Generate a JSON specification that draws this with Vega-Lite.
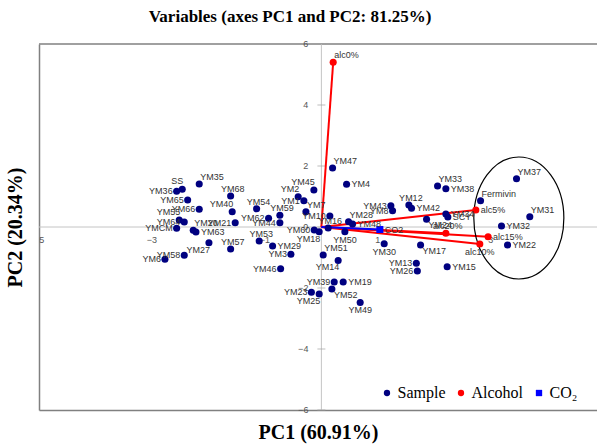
{
  "$schema": "https://vega.github.io/schema/vega-lite/v6.json",
  "width": 558,
  "height": 366,
  "autosize": "none",
  "padding": {"left": 39, "top": 44, "right": 0, "bottom": 34},
  "background": "white",
  "title": {"text": "Variables (axes PC1 and PC2: 81.25%)", "font": "Liberation Serif", "fontSize": 17, "fontWeight": "bold", "color": "#000000", "anchor": "middle", "dx": -28, "offset": 14},
  "datasets": {
    "pts": [
      {"name": "YM35", "type": "Sample", "x": -2.163, "y": 1.410},
      {"name": "SS", "type": "Sample", "x": -2.464, "y": 1.236},
      {"name": "YM36", "type": "Sample", "x": -2.563, "y": 1.170},
      {"name": "YM65", "type": "Sample", "x": -2.368, "y": 0.885},
      {"name": "YM66", "type": "Sample", "x": -2.163, "y": 0.580},
      {"name": "YM55", "type": "Sample", "x": -2.517, "y": 0.230},
      {"name": "YM64", "type": "Sample", "x": -2.428, "y": 0.164},
      {"name": "YM20", "type": "Sample", "x": -2.269, "y": -0.108},
      {"name": "YM63", "type": "Sample", "x": -2.221, "y": -0.164},
      {"name": "YMCM", "type": "Sample", "x": -2.563, "y": -0.043},
      {"name": "YM27", "type": "Sample", "x": -1.991, "y": -0.515},
      {"name": "YM58", "type": "Sample", "x": -2.428, "y": -0.928},
      {"name": "YM6", "type": "Sample", "x": -2.770, "y": -1.059},
      {"name": "YM68", "type": "Sample", "x": -1.607, "y": 1.016},
      {"name": "YM40", "type": "Sample", "x": -1.579, "y": 0.502},
      {"name": "YM21", "type": "Sample", "x": -1.526, "y": 0.141},
      {"name": "YM57", "type": "Sample", "x": -1.607, "y": -0.721},
      {"name": "YM54", "type": "Sample", "x": -1.147, "y": 0.600},
      {"name": "YM62", "type": "Sample", "x": -0.935, "y": 0.285},
      {"name": "YM59", "type": "Sample", "x": -0.735, "y": 0.384},
      {"name": "YM44", "type": "Sample", "x": -0.735, "y": 0.141},
      {"name": "YM53", "type": "Sample", "x": -1.101, "y": -0.459},
      {"name": "YM29", "type": "Sample", "x": -0.864, "y": -0.623},
      {"name": "YM3", "type": "Sample", "x": -0.540, "y": -0.895},
      {"name": "YM46", "type": "Sample", "x": -0.722, "y": -1.367},
      {"name": "YM47", "type": "Sample", "x": 0.198, "y": 1.934},
      {"name": "YM45", "type": "Sample", "x": -0.133, "y": 1.213},
      {"name": "YM4", "type": "Sample", "x": 0.446, "y": 1.400},
      {"name": "YM2", "type": "Sample", "x": -0.411, "y": 0.993},
      {"name": "YM1", "type": "Sample", "x": -0.310, "y": 0.862},
      {"name": "YM7", "type": "Sample", "x": -0.274, "y": 0.502},
      {"name": "YM10", "type": "Sample", "x": 0.150, "y": 0.361},
      {"name": "YM16", "type": "Sample", "x": 0.120, "y": -0.033},
      {"name": "YM28", "type": "Sample", "x": 0.481, "y": 0.174},
      {"name": "YM48", "type": "Sample", "x": 0.552, "y": 0.098},
      {"name": "YM43", "type": "Sample", "x": 1.230, "y": 0.698},
      {"name": "YM8", "type": "Sample", "x": 1.260, "y": 0.534},
      {"name": "YM60", "type": "Sample", "x": -0.127, "y": -0.098},
      {"name": "YM18", "type": "Sample", "x": -0.039, "y": -0.154},
      {"name": "YM50", "type": "Sample", "x": 0.416, "y": -0.154},
      {"name": "YM30", "type": "Sample", "x": 1.112, "y": -0.548},
      {"name": "YM51", "type": "Sample", "x": 0.032, "y": -0.918},
      {"name": "YM14", "type": "Sample", "x": 0.297, "y": -1.098},
      {"name": "YM39", "type": "Sample", "x": 0.227, "y": -1.803},
      {"name": "YM19", "type": "Sample", "x": 0.386, "y": -1.803},
      {"name": "YM52", "type": "Sample", "x": 0.186, "y": -2.033},
      {"name": "YM23", "type": "Sample", "x": -0.177, "y": -2.141},
      {"name": "YM25", "type": "Sample", "x": -0.039, "y": -2.197},
      {"name": "YM49", "type": "Sample", "x": 0.687, "y": -2.475},
      {"name": "YM13", "type": "Sample", "x": 1.681, "y": -1.190},
      {"name": "YM26", "type": "Sample", "x": 1.699, "y": -1.443},
      {"name": "YM33", "type": "Sample", "x": 2.057, "y": 1.344},
      {"name": "YM38", "type": "Sample", "x": 2.204, "y": 1.256},
      {"name": "YM37", "type": "Sample", "x": 3.455, "y": 1.584},
      {"name": "Fermivin", "type": "Sample", "x": 2.818, "y": 0.862},
      {"name": "YM31", "type": "Sample", "x": 3.690, "y": 0.338},
      {"name": "YM12", "type": "Sample", "x": 1.549, "y": 0.721},
      {"name": "YM42", "type": "Sample", "x": 1.596, "y": 0.613},
      {"name": "YM34", "type": "Sample", "x": 2.204, "y": 0.426},
      {"name": "SCY", "type": "Sample", "x": 2.239, "y": 0.328},
      {"name": "YM24", "type": "Sample", "x": 1.862, "y": 0.252},
      {"name": "YM32", "type": "Sample", "x": 3.189, "y": 0.033},
      {"name": "YM22", "type": "Sample", "x": 3.296, "y": -0.590},
      {"name": "YM17", "type": "Sample", "x": 1.756, "y": -0.590},
      {"name": "YM15", "type": "Sample", "x": 2.227, "y": -1.302},
      {"name": "alc0%", "type": "Alcohol", "x": 0.209, "y": 5.400},
      {"name": "alc5%", "type": "Alcohol", "x": 2.735, "y": 0.557},
      {"name": "alc10%", "type": "Alcohol", "x": 2.805, "y": -0.557},
      {"name": "alc15%", "type": "Alcohol", "x": 2.952, "y": -0.318},
      {"name": "alc20%", "type": "Alcohol", "x": 2.204, "y": -0.207},
      {"name": "CO2", "type": "CO2", "x": 1.035, "y": -0.082}
    ],
    "frame": [{"y": 6}],
    "zero": [{"x": 0, "y": 0}],
    "yt": [{"x": 0, "y": 6}, {"x": 0, "y": 4}, {"x": 0, "y": 2}, {"x": 0, "y": 0}, {"x": 0, "y": -2}, {"x": 0, "y": -4}, {"x": 0, "y": -6}],
    "xt": [{"x": -5, "y": 0}, {"x": -3, "y": 0}, {"x": -1, "y": 0}, {"x": 1, "y": 0}, {"x": 3, "y": 0}],
    "ell": [{"x": 3.496, "y": 0.295}]
  },
  "layer": [
    {
      "data": {"name": "frame"},
      "mark": {"type": "rule", "color": "#808080", "strokeWidth": 1.5},
      "encoding": {
        "y": {"field": "y", "type": "quantitative", "scale": {"domain": [-6, 6], "nice": false, "zero": false}, "title": "PC2 (20.34%)"}
      }
    },
    {
      "data": {"name": "zero"},
      "mark": {"type": "rule", "color": "#c4c4c4", "strokeWidth": 1},
      "encoding": {
        "y": {"field": "y", "type": "quantitative", "title": "PC2 (20.34%)"}
      }
    },
    {
      "data": {"name": "zero"},
      "mark": {"type": "rule", "color": "#c4c4c4", "strokeWidth": 1},
      "encoding": {
        "x": {"field": "x", "type": "quantitative", "scale": {"domain": [-5, 4.88], "nice": false, "zero": false}, "title": "PC1 (60.91%)"}
      }
    },
    {
      "data": {"name": "yt"},
      "mark": {"type": "tick", "orient": "horizontal", "size": 8, "thickness": 1, "color": "#a0a0a0"},
      "encoding": {
        "x": {"field": "x", "type": "quantitative", "title": "PC1 (60.91%)"},
        "y": {"field": "y", "type": "quantitative", "title": "PC2 (20.34%)"}
      }
    },
    {
      "data": {"name": "yt"},
      "mark": {"type": "text", "align": "right", "baseline": "middle", "dx": -13, "font": "Liberation Sans", "fontSize": 9, "color": "#555555"},
      "encoding": {
        "x": {"field": "x", "type": "quantitative", "title": "PC1 (60.91%)"},
        "y": {"field": "y", "type": "quantitative", "title": "PC2 (20.34%)"},
        "text": {"field": "y", "type": "quantitative"}
      }
    },
    {
      "data": {"name": "xt"},
      "mark": {"type": "text", "align": "center", "baseline": "middle", "dy": 13, "clip": true, "font": "Liberation Sans", "fontSize": 9, "color": "#555555"},
      "encoding": {
        "x": {"field": "x", "type": "quantitative", "title": "PC1 (60.91%)"},
        "y": {"field": "y", "type": "quantitative", "title": "PC2 (20.34%)"},
        "text": {"field": "x", "type": "quantitative"}
      }
    },
    {
      "data": {"name": "pts"},
      "transform": [{"filter": "datum.type == 'Alcohol'"}],
      "mark": {"type": "rule", "color": "#ff0000", "strokeWidth": 2},
      "encoding": {
        "x": {"field": "x", "type": "quantitative", "title": "PC1 (60.91%)"},
        "y": {"field": "y", "type": "quantitative", "title": "PC2 (20.34%)"},
        "x2": {"datum": 0},
        "y2": {"datum": 0}
      }
    },
    {
      "data": {"name": "pts"},
      "transform": [{"filter": "datum.type == 'CO2'"}],
      "mark": {"type": "rule", "color": "#0000ff", "strokeWidth": 2},
      "encoding": {
        "x": {"field": "x", "type": "quantitative", "title": "PC1 (60.91%)"},
        "y": {"field": "y", "type": "quantitative", "title": "PC2 (20.34%)"},
        "x2": {"datum": 0},
        "y2": {"datum": 0}
      }
    },
    {
      "data": {"name": "ell"},
      "mark": {"type": "point", "filled": false, "stroke": "#000000", "strokeWidth": 1.2, "opacity": 1, "size": 14884, "shape": "M 0 -1 C 0.4076 -1 0.738 -0.5523 0.738 0 C 0.738 0.5523 0.4076 1 0 1 C -0.4076 1 -0.738 0.5523 -0.738 0 C -0.738 -0.5523 -0.4076 -1 0 -1 Z"},
      "encoding": {
        "x": {"field": "x", "type": "quantitative", "title": "PC1 (60.91%)"},
        "y": {"field": "y", "type": "quantitative", "title": "PC2 (20.34%)"}
      }
    },
    {
      "data": {"name": "pts"},
      "mark": {"type": "point", "filled": true, "opacity": 1, "size": 50, "strokeWidth": 0},
      "encoding": {
        "x": {"field": "x", "type": "quantitative", "title": "PC1 (60.91%)"},
        "y": {"field": "y", "type": "quantitative", "title": "PC2 (20.34%)"},
        "color": {"field": "type", "type": "nominal", "scale": {"domain": ["Sample", "Alcohol", "CO2"], "range": ["#000080", "#ff0000", "#0000ff"]}, "legend": {"title": null, "labelExpr": "datum.label == 'CO2' ? 'CO₂' : datum.label"}},
        "shape": {"field": "type", "type": "nominal", "scale": {"domain": ["Sample", "Alcohol", "CO2"], "range": ["circle", "circle", "square"]}, "legend": {"title": null, "labelExpr": "datum.label == 'CO2' ? 'CO₂' : datum.label"}}
      }
    },
    {
      "data": {"name": "pts"},
      "transform": [{"filter": {"field": "name", "oneOf": ["YM29", "YM4", "YM48", "YM19", "YM38", "alc5%", "YM34", "YM32", "alc15%", "YM22", "YM15", "YM42", "YM63", "CO2", "SCY"]}}],
      "mark": {"type": "text", "align": "left", "baseline": "middle", "dx": 5, "dy": 0, "font": "Liberation Sans", "fontSize": 9, "color": "#333333"},
      "encoding": {
        "x": {"field": "x", "type": "quantitative", "title": "PC1 (60.91%)"},
        "y": {"field": "y", "type": "quantitative", "title": "PC2 (20.34%)"},
        "text": {"field": "name"}
      }
    },
    {
      "data": {"name": "pts"},
      "transform": [{"filter": {"field": "name", "oneOf": ["YM35", "YM20", "YM47", "YM7", "YM28", "YM51", "YM33", "YM37", "Fermivin", "YM31", "alc0%"]}}],
      "mark": {"type": "text", "align": "left", "baseline": "middle", "dx": 1, "dy": -7, "font": "Liberation Sans", "fontSize": 9, "color": "#333333"},
      "encoding": {
        "x": {"field": "x", "type": "quantitative", "title": "PC1 (60.91%)"},
        "y": {"field": "y", "type": "quantitative", "title": "PC2 (20.34%)"},
        "text": {"field": "name"}
      }
    },
    {
      "data": {"name": "pts"},
      "transform": [{"filter": {"field": "name", "oneOf": ["YM57", "YM68", "YM54", "YM59", "YM53", "YM16", "YM12", "alc20%"]}}],
      "mark": {"type": "text", "align": "center", "baseline": "middle", "dx": 2, "dy": -7, "font": "Liberation Sans", "fontSize": 9, "color": "#333333"},
      "encoding": {
        "x": {"field": "x", "type": "quantitative", "title": "PC1 (60.91%)"},
        "y": {"field": "y", "type": "quantitative", "title": "PC2 (20.34%)"},
        "text": {"field": "name"}
      }
    },
    {
      "data": {"name": "pts"},
      "transform": [{"filter": {"field": "name", "oneOf": ["YM50", "YM30", "alc10%", "YM49"]}}],
      "mark": {"type": "text", "align": "center", "baseline": "middle", "dx": 0, "dy": 8, "font": "Liberation Sans", "fontSize": 9, "color": "#333333"},
      "encoding": {
        "x": {"field": "x", "type": "quantitative", "title": "PC1 (60.91%)"},
        "y": {"field": "y", "type": "quantitative", "title": "PC2 (20.34%)"},
        "text": {"field": "name"}
      }
    },
    {
      "data": {"name": "pts"},
      "transform": [{"filter": {"field": "name", "oneOf": ["YM52", "YM24", "YM17"]}}],
      "mark": {"type": "text", "align": "left", "baseline": "middle", "dx": 2, "dy": 6, "font": "Liberation Sans", "fontSize": 9, "color": "#333333"},
      "encoding": {
        "x": {"field": "x", "type": "quantitative", "title": "PC1 (60.91%)"},
        "y": {"field": "y", "type": "quantitative", "title": "PC2 (20.34%)"},
        "text": {"field": "name"}
      }
    },
    {
      "data": {"name": "pts"},
      "transform": [{"filter": {"field": "name", "oneOf": ["YM36", "YM65", "YM66", "YM64", "YMCM", "YM21", "YM58", "YM6", "YM62", "YM44", "YM3", "YM46", "YM1", "YM10", "YM43", "YM8", "YM60", "YM39", "YM23", "YM13", "YM26"]}}],
      "mark": {"type": "text", "align": "right", "baseline": "middle", "dx": -4, "dy": 0, "font": "Liberation Sans", "fontSize": 9, "color": "#333333"},
      "encoding": {
        "x": {"field": "x", "type": "quantitative", "title": "PC1 (60.91%)"},
        "y": {"field": "y", "type": "quantitative", "title": "PC2 (20.34%)"},
        "text": {"field": "name"}
      }
    },
    {
      "data": {"name": "pts"},
      "transform": [{"filter": {"field": "name", "oneOf": ["SS", "YM55", "YM45", "YM2", "YM40"]}}],
      "mark": {"type": "text", "align": "right", "baseline": "middle", "dx": 1, "dy": -8, "font": "Liberation Sans", "fontSize": 9, "color": "#333333"},
      "encoding": {
        "x": {"field": "x", "type": "quantitative", "title": "PC1 (60.91%)"},
        "y": {"field": "y", "type": "quantitative", "title": "PC2 (20.34%)"},
        "text": {"field": "name"}
      }
    },
    {
      "data": {"name": "pts"},
      "transform": [{"filter": {"field": "name", "oneOf": ["YM27", "YM18", "YM14", "YM25"]}}],
      "mark": {"type": "text", "align": "right", "baseline": "middle", "dx": 1, "dy": 7, "font": "Liberation Sans", "fontSize": 9, "color": "#333333"},
      "encoding": {
        "x": {"field": "x", "type": "quantitative", "title": "PC1 (60.91%)"},
        "y": {"field": "y", "type": "quantitative", "title": "PC2 (20.34%)"},
        "text": {"field": "name"}
      }
    }
  ],
  "config": {
    "view": {"stroke": null},
    "axisX": {"labels": false, "ticks": false, "grid": false, "domainColor": "#808080", "domainWidth": 1.5, "titleFont": "Liberation Serif", "titleFontSize": 20, "titleFontWeight": "bold", "titleColor": "#000000", "titlePadding": 12},
    "axisY": {"labels": false, "ticks": false, "grid": false, "domainColor": "#808080", "domainWidth": 1.5, "titleFont": "Liberation Serif", "titleFontSize": 20, "titleFontWeight": "bold", "titleColor": "#000000", "titlePadding": 14},
    "legend": {"orient": "none", "legendX": 340, "legendY": 341, "direction": "horizontal", "padding": 0, "labelFont": "Liberation Serif", "labelFontSize": 16, "labelColor": "#000000", "symbolSize": 40, "columnPadding": 7, "labelOffset": 2.5, "symbolStrokeWidth": 0}
  }
}
